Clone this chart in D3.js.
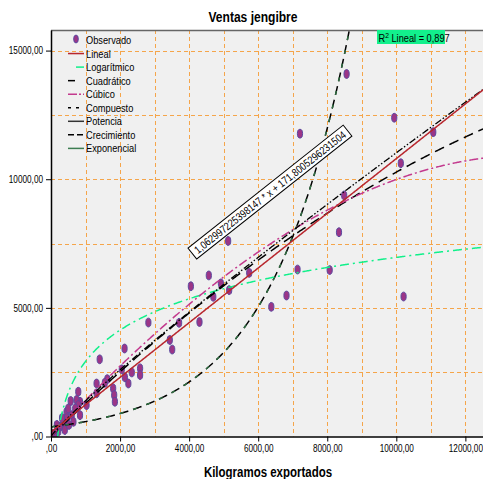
<!DOCTYPE html>
<html lang="es">
  <head>
    <meta charset="UTF-8" />
    <title>Ventas jengibre</title>
    <script src="https://cdn.jsdelivr.net/npm/d3@7"></script>
    <style>
      html,
      body {
        margin: 0;
        padding: 0;
        background: #fff;
      }
      svg {
        display: block;
        font-family: 'Liberation Sans', Arial, sans-serif;
      }
    </style>
  </head>
  <body>
    <svg width="483" height="479"></svg>
    <script>
      // observed values (kg exported, sales)
      const kilos = [
        8560, 7210, 9940, 11070, 10130, 8490, 8340, 8070, 10210, 5130,
        4570, 4920, 4700, 5160, 5740, 7140, 6820, 6380, 4300, 4050,
        2820, 3710, 3440, 3510, 2130, 1410, 2050, 2580, 2580, 2340,
        2140, 2240, 1630, 1560, 1800, 1830, 1850, 1320, 790, 570,
        840, 1030, 450, 1320, 740, 790, 700, 600, 500, 450,
        360, 260, 210, 120, 100, 840, 650, 400, 320, 170, 520, 30
      ];
      const ventas = [
        14090, 11770, 12390, 11830, 10620, 9370, 7940, 6470, 5440, 7600,
        6260, 5950, 5430, 5690, 6360, 6490, 5480, 5040, 4450, 5840,
        4430, 4420, 3750, 3380, 3420, 3000, 2610, 2650, 2390, 2490,
        2300, 2060, 2230, 2090, 1870, 1610, 1350, 2060, 1740, 1380,
        1350, 1220, 960, 1680, 1420, 1220, 1090, 830, 1090, 710,
        510, 380, 190, 120, 20, 830, 570, 250, 720, 450, 450, 100
      ];

      const xTicks = [0, 2000, 4000, 6000, 8000, 10000, 12000];
      const yTicks = [0, 5000, 10000, 15000];

      const legendNames = ['Observado', 'Lineal', 'Logarítmico', 'Cuadrático', 'Cúbico',
        'Compuesto', 'Potencia', 'Crecimiento', 'Exponencial'];

      // fitted model coefficients
      const lineal = [171.8005296231504, 1.062997225398147];
      const logaritmico = [-9212, 1756];
      const cuadratico = [0, 1.315, -0.00002874];
      const cubico = [0, 1.447, -0.00003784, -6.96e-10];
      const potencia = [2.77, 0.9];
      const exponencial = [375, 0.000433];

      const fmt = v => (v === 0 ? ',00' : v + ',00');

      // the original uses a condensed face; squeeze the glyphs horizontally
      function squeeze(sel, k) {
        sel.each(function() {
          const len = this.getComputedTextLength();
          d3.select(this)
            .attr('textLength', (len * k).toFixed(1))
            .attr('lengthAdjust', 'spacingAndGlyphs');
        });
      }

      const svg = d3.select('svg');
      const pL = 51, pT = 30, pR = 483, pB = 436.5;

      const x = d3.scaleLinear().domain([0, 12510]).range([pL, pR]);
      const y = d3.scaleLinear().domain([0, 15800]).range([pB, pT]);

      svg.append('defs').append('clipPath').attr('id', 'clip')
        .append('rect')
        .attr('x', pL).attr('y', pT)
        .attr('width', pR - pL).attr('height', pB - pT);

      svg.append('rect')
        .attr('x', pL).attr('y', pT)
        .attr('width', pR - pL).attr('height', pB - pT)
        .style('fill', '#f0f0f0');

      // grid
      const grid = svg.append('g');
      grid.selectAll('line.v')
        .data(d3.range(1000, 12501, 1000))
        .enter().append('line')
        .attr('class', 'v')
        .attr('x1', d => Math.round(x(d)) + 0.5).attr('x2', d => Math.round(x(d)) + 0.5)
        .attr('y1', pT).attr('y2', pB);
      grid.selectAll('line.h')
        .data(d3.range(2500, 15001, 2500))
        .enter().append('line')
        .attr('class', 'h')
        .attr('x1', pL).attr('x2', pR)
        .attr('y1', d => Math.round(y(d)) + 0.5).attr('y2', d => Math.round(y(d)) + 0.5);
      grid.selectAll('line')
        .style('stroke', '#f5a54a')
        .style('stroke-width', 1)
        .style('stroke-dasharray', '4,3');

      svg.append('line')
        .attr('x1', pL).attr('x2', pR)
        .attr('y1', pT + 0.5).attr('y2', pT + 0.5)
        .style('stroke', '#666').style('stroke-width', 1.5);

      const plot = svg.append('g').attr('clip-path', 'url(#clip)');

      // observed points
      plot.selectAll('ellipse')
        .data(kilos)
        .enter().append('ellipse')
        .attr('cx', d => x(d))
        .attr('cy', (d, i) => y(ventas[i]))
        .attr('rx', 2.6).attr('ry', 4.4)
        .style('fill', '#9c3587')
        .style('stroke', '#5a4aa0')
        .style('stroke-width', 1);

      function curve(fn, x0, color, dash, w) {
        const xs = d3.range(x0, 12600, 25);
        const line = d3.line()
          .x(d => x(d))
          .y(d => y(fn(d)));
        plot.append('path')
          .datum(xs.filter(d => fn(d) < 17000 && fn(d) > -500))
          .attr('d', line)
          .style('fill', 'none')
          .style('stroke', color)
          .style('stroke-width', w || 1.5)
          .style('stroke-dasharray', dash);
      }

      curve(d => exponencial[0] * Math.exp(exponencial[1] * d), 0, '#000', '9,5', 1.5);
      curve(d => exponencial[0] * Math.exp(exponencial[1] * d), 0, '#2f6e41', '4,10', 1.5);
      curve(d => logaritmico[0] + logaritmico[1] * Math.log(d), 180, '#10f08a', '9,4,2,4', 1.5);
      curve(d => cuadratico[0] + cuadratico[1] * d + cuadratico[2] * d * d, 0, '#000', '10,6', 1.5);
      curve(d => cubico[0] + cubico[1] * d + cubico[2] * d * d + cubico[3] * d * d * d, 0, '#c33a8e', '9,3,2,3', 1.5);
      curve(d => potencia[0] * Math.pow(d, potencia[1]), 1, '#000', '7,2,1.5,2,1.5,2', 1.3);
      curve(d => lineal[0] + lineal[1] * d, 0, '#b8272e', null, 1.5);

      // axes
      const xAxis = d3.axisBottom(x).tickValues(xTicks).tickFormat(fmt).tickSize(5).tickSizeOuter(0);
      const yAxis = d3.axisLeft(y).tickValues(yTicks).tickFormat(fmt).tickSize(5).tickSizeOuter(0);

      svg.append('g')
        .attr('transform', 'translate(0,' + pB + ')')
        .call(xAxis);
      svg.append('g')
        .attr('transform', 'translate(' + pL + ',0)')
        .call(yAxis);

      svg.selectAll('path.domain').style('stroke', '#000').style('stroke-width', 1.5);
      svg.selectAll('.tick line').style('stroke', '#000');
      svg.selectAll('.tick text')
        .style('font-size', '10px')
        .style('fill', '#000')
        .style('font-family', "'Liberation Sans', Arial, sans-serif")
        .call(squeeze, 0.82);

      // titles
      svg.append('text')
        .attr('x', 253).attr('y', 22)
        .attr('text-anchor', 'middle')
        .style('font-size', '14px').style('font-weight', 'bold')
        .text('Ventas jengibre')
        .call(squeeze, 0.86);
      svg.append('text')
        .attr('x', 268).attr('y', 477)
        .attr('text-anchor', 'middle')
        .style('font-size', '14px').style('font-weight', 'bold')
        .text('Kilogramos exportados')
        .call(squeeze, 0.82);

      // legend
      const legend = svg.append('g');
      const ly = i => 40 + i * 13.55;
      legend.selectAll('text')
        .data(legendNames)
        .enter().append('text')
        .attr('x', 86).attr('y', (d, i) => ly(i) + 4)
        .style('font-size', '11px')
        .text(d => d)
        .call(squeeze, 0.84);

      legend.append('ellipse')
        .attr('cx', 76).attr('cy', ly(0) - 1)
        .attr('rx', 2.3).attr('ry', 4)
        .style('fill', '#9c3587').style('stroke', '#5a4aa0');

      const sym = [
        null,
        { c: '#b8272e', x1: 68, x2: 84, dash: null },
        { c: '#10f08a', x1: 76, x2: 84, dash: null },
        { c: '#000', x1: 68, x2: 75, dash: null },
        { c: '#c33a8e', x1: 68, x2: 84, dash: '9,2,2,2' },
        { c: '#000', x1: 68, x2: 84, dash: '3,5' },
        { c: '#333', x1: 68, x2: 84, dash: null },
        { c: '#000', x1: 68, x2: 84, dash: '6,3' },
        { c: '#3d7d51', x1: 68, x2: 84, dash: null }
      ];
      sym.forEach((s, i) => {
        if (!s) return;
        legend.append('line')
          .attr('x1', s.x1).attr('x2', s.x2)
          .attr('y1', ly(i)).attr('y2', ly(i))
          .style('stroke', s.c)
          .style('stroke-width', 1.5)
          .style('stroke-dasharray', s.dash);
      });

      // R2 label
      svg.append('rect')
        .attr('x', 377).attr('y', 30)
        .attr('width', 68).attr('height', 14)
        .style('fill', '#12f08c');
      const r2 = svg.append('text')
        .attr('transform', 'translate(378.5,41.5) scale(0.84,1)')
        .style('font-size', '11px');
      r2.append('tspan').text('R');
      r2.append('tspan').attr('dy', -4).style('font-size', '8px').text('2');
      r2.append('tspan').attr('dy', 4).text(' Lineal = 0,897');

      // equation label along the linear fit
      const ax = 6340, ay = 9500;
      const ang = Math.atan2(y(lineal[1] * 1000) - y(0), x(1000) - x(0)) * 180 / Math.PI;
      const eq = svg.append('g')
        .attr('transform', 'translate(' + x(ax) + ',' + y(ay) + ') rotate(' + ang + ')');
      eq.append('rect')
        .attr('x', -99).attr('y', -7)
        .attr('width', 198).attr('height', 14)
        .style('fill', '#fff')
        .style('stroke', '#000')
        .style('stroke-width', 1);
      eq.append('text')
        .attr('x', 0).attr('y', 4)
        .attr('text-anchor', 'middle')
        .style('font-size', '11px')
        .text('1,062997225398147 * x + 171,8005296231504')
        .attr('textLength', 190)
        .attr('lengthAdjust', 'spacingAndGlyphs');
    </script>
  </body>
</html>
